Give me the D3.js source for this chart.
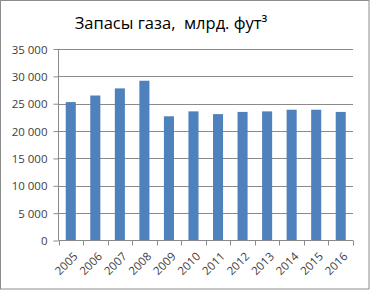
<!DOCTYPE html>
<html lang="ru">
<head>
    <meta charset="utf-8" />
    <script src="https://d3js.org/d3.v7.min.js"></script>
    <style>
        body { margin: 0; background: #fff; }
        text { font-family: "Open Sans", "DejaVu Sans", sans-serif; }
    </style>
</head>
<body>
    <script>
        // data
        const years = ["2005", "2006", "2007", "2008", "2009", "2010", "2011", "2012", "2013", "2014", "2015", "2016"];
        const reserves = [25300, 26500, 27800, 29200, 22700, 23600, 23100, 23500, 23600, 23900, 23900, 23500];
        const yTicks = [0, 5000, 10000, 15000, 20000, 25000, 30000, 35000];
        const title = "Запасы газа,  млрд. фут³";

        const width = 370, height = 290;
        const plotLeft = 58.5, plotRight = 353, plotTop = 49, plotBottom = 240.5;

        const svg = d3.select("body").append("svg")
            .attr("width", width)
            .attr("height", height);

        // chart border
        svg.append("rect")
            .attr("x", 0.5).attr("y", 0.5)
            .attr("width", width - 1.5).attr("height", height - 1.5)
            .attr("fill", "#fff")
            .attr("stroke", "#8c8c8c");

        const x = d3.scaleBand().domain(years).range([plotLeft, plotRight]).paddingInner(0.59).paddingOuter(0.295);
        const xCat = d3.scaleBand().domain(years).range([plotLeft, plotRight]);
        const y = d3.scaleLinear().domain([0, 35000]).range([plotBottom, plotTop]);

        const fmt = d => d3.format(",")(d).replace(/,/g, " ");

        // gridlines
        svg.append("g").selectAll("line")
            .data(yTicks.filter(d => d > 0))
            .enter().append("line")
            .attr("x1", plotLeft).attr("x2", plotRight)
            .attr("y1", d => Math.round(y(d)) + 0.5).attr("y2", d => Math.round(y(d)) + 0.5)
            .attr("stroke", "#8a8a8a");

        // bars
        svg.append("g").selectAll("rect")
            .data(reserves)
            .enter().append("rect")
            .attr("x", (d, i) => x(years[i]))
            .attr("y", d => y(d))
            .attr("width", x.bandwidth())
            .attr("height", d => y(0) - y(d))
            .attr("fill", "#4f81bd");

        // y axis
        const yAxis = d3.axisLeft(y).tickValues(yTicks).tickSize(5).tickPadding(6).tickFormat(fmt);
        const gy = svg.append("g")
            .attr("transform", "translate(" + plotLeft + ",0)")
            .call(yAxis);
        gy.selectAll("line, path").attr("stroke", "#8a8a8a");
        gy.select("path").attr("d", "M0," + plotTop + "V" + plotBottom);
        gy.selectAll("text").attr("fill", "#404040").style("font-size", "11.5px").attr("dy", "0.35em");

        // x axis with ticks at category boundaries
        const gx = svg.append("g").attr("transform", "translate(0," + plotBottom + ")");
        gx.append("line")
            .attr("x1", plotLeft).attr("x2", plotRight)
            .attr("stroke", "#8a8a8a");
        gx.selectAll(".tk")
            .data(years.concat(["end"]))
            .enter().append("line")
            .attr("class", "tk")
            .attr("x1", (d, i) => Math.round(plotLeft + i * xCat.step()) + 0.5)
            .attr("x2", (d, i) => Math.round(plotLeft + i * xCat.step()) + 0.5)
            .attr("y1", 0).attr("y2", 5)
            .attr("stroke", "#8a8a8a");
        gx.selectAll("text")
            .data(years)
            .enter().append("text")
            .attr("transform", d => "translate(" + (xCat(d) + xCat.bandwidth() / 2 + 2) + ",11) rotate(-45)")
            .attr("text-anchor", "end")
            .attr("dy", "0.7em")
            .attr("fill", "#404040")
            .style("font-size", "11.5px")
            .text(d => d);

        // title
        svg.append("text")
            .attr("x", 171).attr("y", 29)
            .attr("text-anchor", "middle")
            .attr("fill", "#000")
            .style("font-size", "16.5px")
            .style("white-space", "pre")
            .text(title);
    </script>
</body>
</html>
